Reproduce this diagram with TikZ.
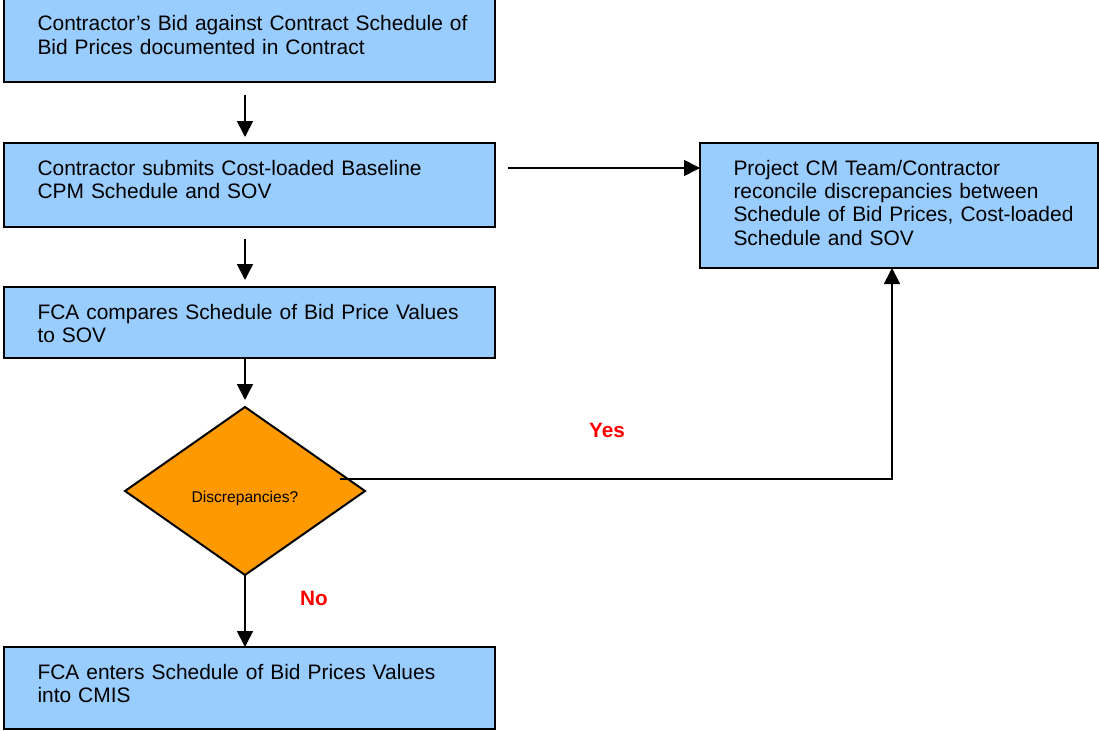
\documentclass[tikz,border=0pt]{standalone}
\usepackage{fontspec}
\setmainfont{Liberation Sans}
\usepackage{tikz}
\usetikzlibrary{positioning, arrows.meta, shapes.geometric}

\definecolor{boxblue}{HTML}{99CCFF}
\definecolor{decorange}{HTML}{FF9900}

\tikzset{
  stepbox/.style={draw, line width=0.05cm, fill=boxblue, inner sep=0pt, outer sep=0pt,
    text width=12.275cm, align=left, text height=0.8cm, text depth=#1,
    font=\fontsize{14.9pt}{16.7pt}\selectfont,
    execute at begin node={\leftskip=0.8375cm\relax}},
  decision/.style={diamond, draw, line width=0.05cm, fill=decorange, inner sep=0pt, outer sep=0pt,
    minimum width=6cm, minimum height=4.2cm, text height=0.6cm, text depth=0.03cm,
    font=\fontsize{11.1pt}{13pt}\selectfont},
  answer/.style={text=red, font=\fontsize{14.75pt}{16pt}\selectfont\bfseries}
}

\begin{document}
\begin{tikzpicture}[->, >={Triangle[width=0.4cm,length=0.4cm]}, line width=0.045cm]
  \useasboundingbox (0,0) rectangle (27.475,-18.275);

		\node (1) [stepbox=1.275cm, anchor=north west] at (0.1,0.025)
			{Contractor’s Bid against Contract Schedule of\\Bid Prices documented in Contract};
		\node (2) [stepbox=1.3cm, below=1.525cm of 1]
			{Contractor submits Cost-loaded Baseline\\CPM Schedule and SOV};
		\node (3) [stepbox=0.975cm, below=1.5cm of 2]
			{FCA compares Schedule of Bid Price Values\\to SOV};
		\node (4) [decision, below=1.225cm of 3, xshift=-0.1125cm] {Discrepancies?};
		\node (5) [stepbox=1.25cm, below=1.8cm of 4, xshift=0.1125cm]
			{FCA enters Schedule of Bid Prices Values\\into CMIS};
		\node (6) [stepbox=2.325cm, text width=9.95cm, right=5.125cm of 2.north east, anchor=north west]
			{Project CM Team/Contractor\\reconcile discrepancies between\\Schedule of Bid Prices, Cost-loaded\\Schedule and SOV};

		\node (yes) [answer] at (15.175,-10.75) {Yes};
		\node (no) [answer] at (7.85,-14.95) {No};

			\path
				(1.south -| 4) edge [shorten <=0.325cm, shorten >=0.15cm] (2.north -| 4)
				(2.south -| 4) edge [shorten <=0.3cm, shorten >=0.175cm] (3.north -| 4)
				(3.south -| 4) edge [shorten >=0.175cm] (4.north)
				(4.south) edge (5.north -| 4)
				([yshift=0.425cm]2.east) edge [shorten <=0.325cm] ([yshift=0.425cm]2.east -| 6.west);

			\draw ([xshift=-0.625cm,yshift=0.3cm]4.east) -| ([xshift=-0.175cm]6.south);

\end{tikzpicture}
\end{document}
